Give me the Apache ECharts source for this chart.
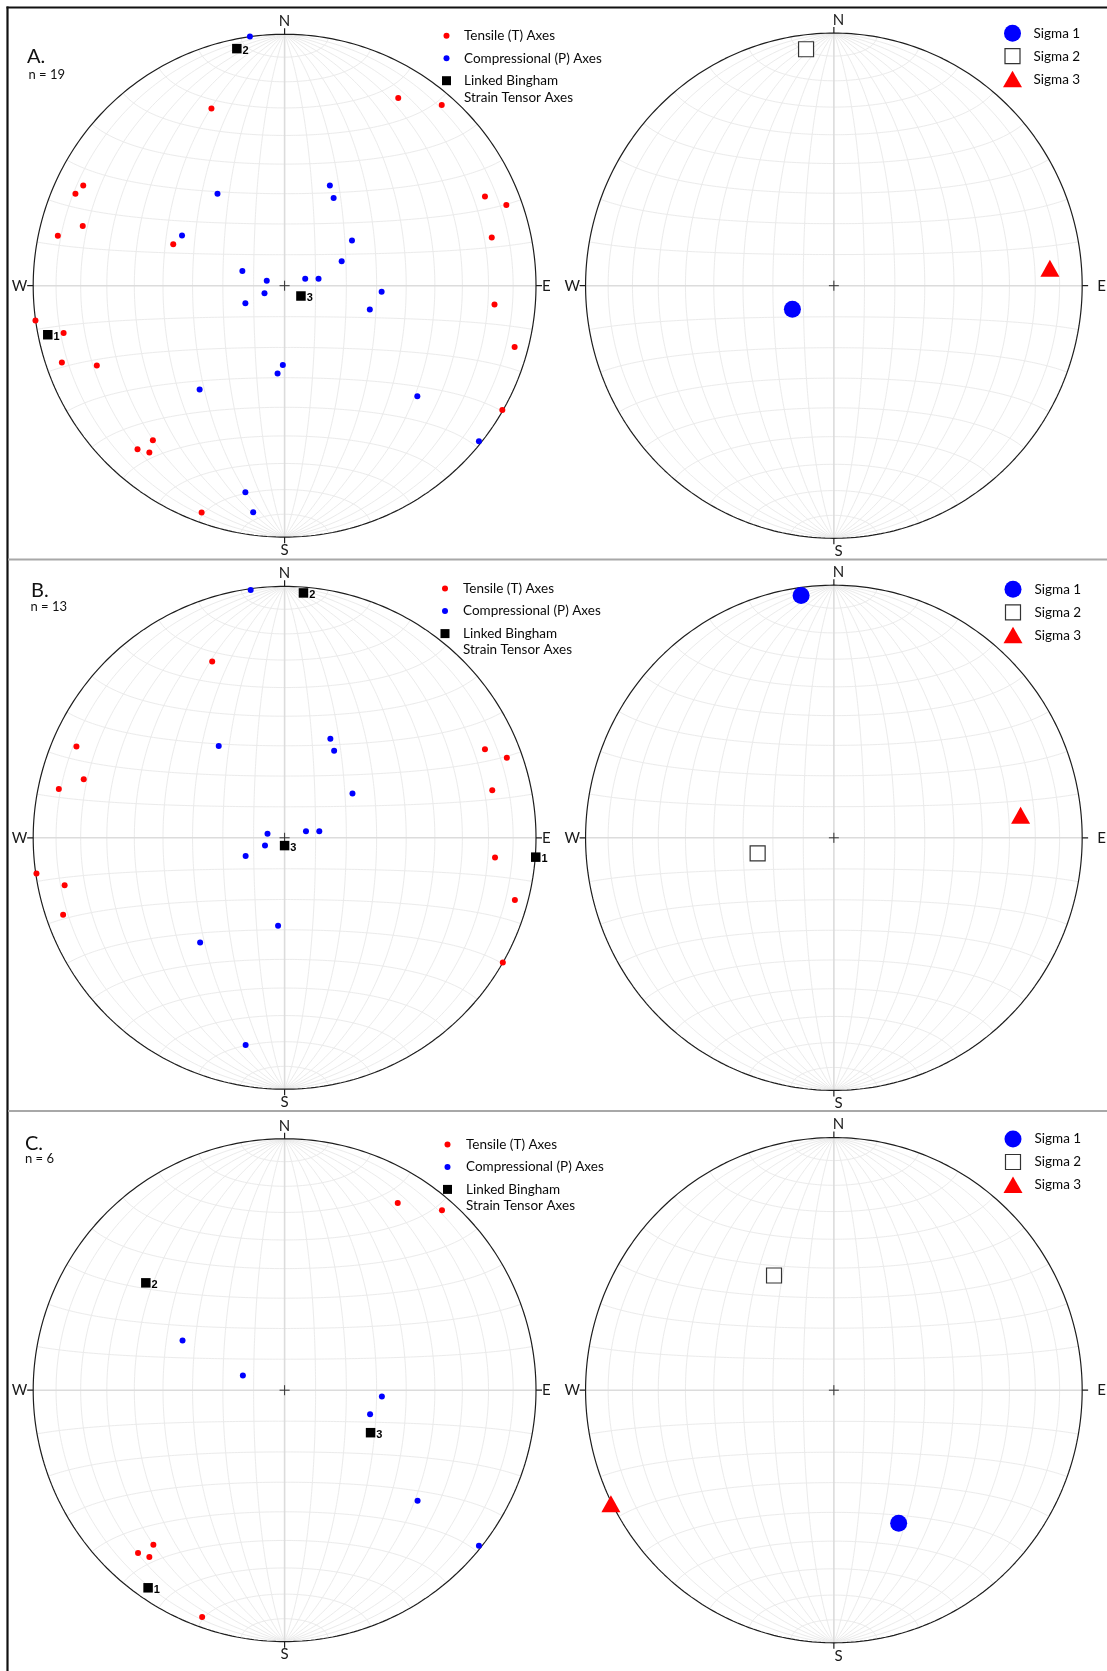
<!DOCTYPE html>
<html><head><meta charset="utf-8">
<script src="https://cdn.jsdelivr.net/npm/echarts@6/dist/echarts.min.js"></script>
<style>html,body{margin:0;padding:0;background:#fff}#c{width:1107px;height:1671px}</style>
</head><body><div id="c"></div>
<script>
// ---- DATA: projected positions on a unit-radius equal-area (Schmidt) net, [east, north] ----
const A_tensile = [[0.452,0.747],[0.625,0.719],[-0.291,0.705],[-0.801,0.399],[-0.832,0.366],[-0.803,0.237],[-0.902,0.199],[-0.443,0.165],[0.797,0.355],[0.882,0.321],[0.824,0.192],[0.835,-0.075],[0.915,-0.244],[0.866,-0.494],[-0.991,-0.138],[-0.879,-0.188],[-0.886,-0.305],[-0.747,-0.317],[-0.524,-0.615],[-0.585,-0.651],[-0.538,-0.663],[-0.330,-0.902]];
const A_comp = [[-0.138,0.991],[-0.267,0.366],[0.180,0.399],[0.195,0.349],[-0.408,0.200],[0.268,0.180],[0.227,0.097],[-0.168,0.058],[-0.071,0.020],[0.082,0.028],[0.135,0.028],[-0.080,-0.030],[-0.156,-0.070],[0.386,-0.024],[0.339,-0.095],[-0.007,-0.315],[-0.028,-0.349],[-0.338,-0.413],[0.528,-0.440],[0.773,-0.619],[-0.156,-0.822],[-0.125,-0.901]];
const A_bingham = [[-0.942,-0.195],[-0.190,0.943],[0.065,-0.041]];
const A_sigma1 = [[-0.167,-0.093]];
const A_sigma2 = [[-0.112,0.936]];
const A_sigma3 = [[0.870,0.069]];

const B_tensile = [[-0.288,0.701],[-0.828,0.363],[-0.799,0.233],[-0.898,0.194],[0.797,0.352],[0.884,0.318],[0.826,0.189],[0.837,-0.078],[0.916,-0.247],[0.868,-0.496],[-0.987,-0.142],[-0.875,-0.189],[-0.881,-0.306]];
const B_comp = [[-0.135,0.986],[-0.262,0.365],[0.182,0.394],[0.197,0.346],[0.270,0.176],[-0.068,0.016],[0.085,0.026],[0.138,0.026],[-0.078,-0.031],[-0.155,-0.072],[-0.026,-0.350],[-0.336,-0.416],[-0.155,-0.824]];
const B_bingham = [[0.999,-0.077],[0.075,0.974],[0.000,-0.031]];
const B_sigma1 = [[-0.132,0.959]];
const B_sigma2 = [[-0.307,-0.062]];
const B_sigma3 = [[0.752,0.089]];

const C_tensile = [[0.450,0.745],[0.626,0.716],[-0.522,-0.615],[-0.583,-0.648],[-0.538,-0.663],[-0.328,-0.902]];
const C_comp = [[-0.406,0.198],[-0.166,0.058],[0.387,-0.025],[0.340,-0.096],[0.529,-0.440],[0.773,-0.619]];
const C_bingham = [[-0.543,-0.786],[-0.552,0.427],[0.342,-0.169]];
const C_sigma1 = [[0.261,-0.527]];
const C_sigma2 = [[-0.241,0.454]];
const C_sigma3 = [[-0.898,-0.450]];

const panelLabels = ['A.','B.','C.'];
const panelCounts = ['n = 19','n = 13','n = 6'];
const leftLegendNames = ['Tensile (T) Axes','Compressional (P) Axes','Linked Bingham','Strain Tensor Axes'];
const rightLegendNames = ['Sigma 1','Sigma 2','Sigma 3'];
const binghamLabels = ['1','2','3'];

const rows = [
  {T:A_tensile,P:A_comp,B:A_bingham,s1:A_sigma1,s2:A_sigma2,s3:A_sigma3},
  {T:B_tensile,P:B_comp,B:B_bingham,s1:B_sigma1,s2:B_sigma2,s3:B_sigma3},
  {T:C_tensile,P:C_comp,B:C_bingham,s1:C_sigma1,s2:C_sigma2,s3:C_sigma3}
];

// ---- LAYOUT ----
const RADII = [251.4, 252.6];
const COLS = [284.6, 838.6];
const ROWS = [285.7, 837.8, 1390.2];
const EXT = 1.1;
const FONT = 'Lato, "Open Sans", sans-serif';
const RED = '#ff0000', BLUE = '#0000ff';
const labelPos = [
  {lx:27, ly:56.5, nx:28.5, ny:74.5},
  {lx:31, ly:591, nx:30.5, ny:607},
  {lx:25, ly:1144, nx:25, ny:1158.5}
];
const leftLeg = [{x:446.5, tx:464, y:35.7},{x:445, tx:463, y:588.6},{x:447.5, tx:466, y:1144.4}];
const rightLeg = [{x:1012.5, tx:1033.5, y:33.2},{x:1013, tx:1034.5, y:589.3},{x:1013, tx:1034.5, y:1139}];

// ---- NET GEOMETRY (equal-area projection) ----
const D = Math.PI/180;
function proj(phi, lam){
  const p=phi*D, l=lam*D;
  const x=Math.cos(p)*Math.sin(l), y=Math.sin(p), z=Math.cos(p)*Math.cos(l);
  const k=1/Math.sqrt(1+z);
  return [x*k, y*k];
}
const GAP = ['-','-'];
function netGrid(){
  const g=[];
  for(let lam=-80; lam<=80; lam+=10){ if(lam===0) continue;
    for(let phi=-90; phi<=90; phi+=1) g.push(proj(phi,lam)); g.push(GAP); }
  for(let phi=-80; phi<=80; phi+=10){ if(phi===0) continue;
    for(let lam=-90; lam<=90; lam+=1) g.push(proj(phi,lam)); g.push(GAP); }
  return g;
}
const NET = netGrid();
const AXES_LINES = [[-1,0],[1,0],GAP,[0,-1],[0,1]];
const PRIM = []; for(let a=0;a<=360;a+=1) PRIM.push([Math.cos(a*D), Math.sin(a*D)]);
const TK = 0.024, CR = 0.02;
const TICKS = [[0,1],[0,1+TK],GAP,[0,-1],[0,-1-TK],GAP,[1,0],[1+TK,0],GAP,[-1,0],[-1-TK,0]];
const CROSS = [[-CR,0],[CR,0],GAP,[0,-CR],[0,CR]];

const grids=[], xAxis=[], yAxis=[], series=[], graphic=[];

function lineSeries(i, data, color, width, z){
  return {type:'line', xAxisIndex:i, yAxisIndex:i, data, showSymbol:false, symbol:'none',
    silent:true, animation:false, connectNulls:false, clip:false, z,
    lineStyle:{color, width}};
}

let gi = 0;
rows.forEach((row, r)=>{
  [0,1].forEach(c=>{
    const cx=COLS[c], cy=ROWS[r], R=RADII[c];
    grids.push({left:cx-EXT*R, top:cy-EXT*R, width:2*EXT*R, height:2*EXT*R});
    xAxis.push({type:'value', gridIndex:gi, min:-EXT, max:EXT, show:false});
    yAxis.push({type:'value', gridIndex:gi, min:-EXT, max:EXT, show:false});
    series.push(lineSeries(gi, NET, '#ebebeb', 1, 1));
    series.push(lineSeries(gi, AXES_LINES, '#dcdcdc', 1.6, 2));
    series.push(lineSeries(gi, PRIM, '#1e1e1e', 1.2, 3));
    series.push(lineSeries(gi, TICKS, '#1e1e1e', 1.2, 3));
    series.push(lineSeries(gi, CROSS, '#333333', 1, 3));
    if(c===0){
      series.push({type:'scatter', name:leftLegendNames[0], xAxisIndex:gi, yAxisIndex:gi, data:row.T,
        symbol:'circle', symbolSize:6, itemStyle:{color:RED, opacity:1}, z:5, animation:false});
      series.push({type:'scatter', name:leftLegendNames[1], xAxisIndex:gi, yAxisIndex:gi, data:row.P,
        symbol:'circle', symbolSize:6, itemStyle:{color:BLUE, opacity:1}, z:5, animation:false});
      series.push({type:'scatter', name:leftLegendNames[2], xAxisIndex:gi, yAxisIndex:gi,
        data:row.B.map((v,j)=>({value:v, name:binghamLabels[j]})),
        symbol:'rect', symbolSize:9.5, itemStyle:{color:'#000', opacity:1}, z:6, animation:false,
        label:{show:true, position:'right', distance:1, offset:[0,2], formatter:'{b}',
          fontSize:11, fontWeight:'bold', fontFamily:'Arial, "Liberation Sans", sans-serif', color:'#000'}});
    } else {
      series.push({type:'scatter', name:rightLegendNames[0], xAxisIndex:gi, yAxisIndex:gi, data:row.s1,
        symbol:'circle', symbolSize:17, itemStyle:{color:BLUE, opacity:1}, z:5, animation:false});
      series.push({type:'scatter', name:rightLegendNames[1], xAxisIndex:gi, yAxisIndex:gi, data:row.s2,
        symbol:'rect', symbolSize:15, itemStyle:{color:'#ffffff', borderColor:'#333', borderWidth:1.2, opacity:1}, z:5, animation:false});
      series.push({type:'scatter', name:rightLegendNames[2], xAxisIndex:gi, yAxisIndex:gi, data:row.s3,
        symbol:'triangle', symbolSize:[19,17], itemStyle:{color:RED, opacity:1}, z:5, animation:false});
    }
    // compass labels
    const ts = {fontSize:15, fontFamily:FONT, fill:'#1a1a1a'};
    graphic.push({type:'text', x:cx, y:cy-R-13, style:Object.assign({text:'N', align:'center', verticalAlign:'middle'}, ts)});
    graphic.push({type:'text', x:cx, y:cy+R+13, style:Object.assign({text:'S', align:'center', verticalAlign:'middle'}, ts)});
    graphic.push({type:'text', x:cx-R-6, y:cy, style:Object.assign({text:'W', align:'right', verticalAlign:'middle'}, ts)});
    graphic.push({type:'text', x:cx+R+6, y:cy, style:Object.assign({text:'E', align:'left', verticalAlign:'middle'}, ts)});
    gi++;
  });
  // panel label
  const lp = labelPos[r];
  graphic.push({type:'text', x:lp.lx, y:lp.ly, style:{text:panelLabels[r], fontSize:20, fontFamily:FONT, fill:'#111', verticalAlign:'middle'}});
  graphic.push({type:'text', x:lp.nx, y:lp.ny, style:{text:panelCounts[r], fontSize:13, fontFamily:FONT, fill:'#111', verticalAlign:'middle'}});
  // left legend
  const L = leftLeg[r], st=22.5;
  const lt = {fontSize:13.5, fontFamily:FONT, fill:'#0a0a0a', verticalAlign:'middle', align:'left'};
  graphic.push({type:'circle', shape:{cx:L.x, cy:L.y, r:3}, style:{fill:RED}});
  graphic.push({type:'circle', shape:{cx:L.x, cy:L.y+st, r:3}, style:{fill:BLUE}});
  graphic.push({type:'rect', shape:{x:L.x-4.5, y:L.y+2*st-4.5, width:9, height:9}, style:{fill:'#000'}});
  graphic.push({type:'text', x:L.tx, y:L.y, style:Object.assign({text:leftLegendNames[0]}, lt)});
  graphic.push({type:'text', x:L.tx, y:L.y+st, style:Object.assign({text:leftLegendNames[1]}, lt)});
  graphic.push({type:'text', x:L.tx, y:L.y+2*st, style:Object.assign({text:leftLegendNames[2]}, lt)});
  graphic.push({type:'text', x:L.tx, y:L.y+2*st+16.5, style:Object.assign({text:leftLegendNames[3]}, lt)});
  // right legend
  const Q = rightLeg[r], sq=23;
  graphic.push({type:'circle', shape:{cx:Q.x, cy:Q.y, r:8.5}, style:{fill:BLUE}});
  graphic.push({type:'rect', shape:{x:Q.x-7.5, y:Q.y+sq-7.5, width:15, height:15}, style:{fill:'#fff', stroke:'#333', lineWidth:1.2}});
  graphic.push({type:'polygon', shape:{points:[[Q.x, Q.y+2*sq-8.5],[Q.x+9.5, Q.y+2*sq+8],[Q.x-9.5, Q.y+2*sq+8]]}, style:{fill:RED}});
  rightLegendNames.forEach((nm,k)=>{
    graphic.push({type:'text', x:Q.tx, y:Q.y+k*sq, style:Object.assign({text:nm}, lt)});
  });
});

// frame
graphic.push({type:'line', shape:{x1:6.5, y1:7.5, x2:1107, y2:7.5}, style:{stroke:'#111', lineWidth:2.2}, z:10});
graphic.push({type:'line', shape:{x1:7.5, y1:6.5, x2:7.5, y2:1671}, style:{stroke:'#111', lineWidth:2.2}, z:10});
graphic.push({type:'line', shape:{x1:8, y1:559.5, x2:1107, y2:559.5}, style:{stroke:'#a8a8a8', lineWidth:2}, z:10});
graphic.push({type:'line', shape:{x1:8, y1:1111, x2:1107, y2:1111}, style:{stroke:'#a8a8a8', lineWidth:2}, z:10});

const chart = echarts.init(document.getElementById('c'), null, {renderer:'canvas'});
chart.setOption({backgroundColor:'#fff', animation:false, grid:grids, xAxis, yAxis, series, graphic});
</script></body></html>
